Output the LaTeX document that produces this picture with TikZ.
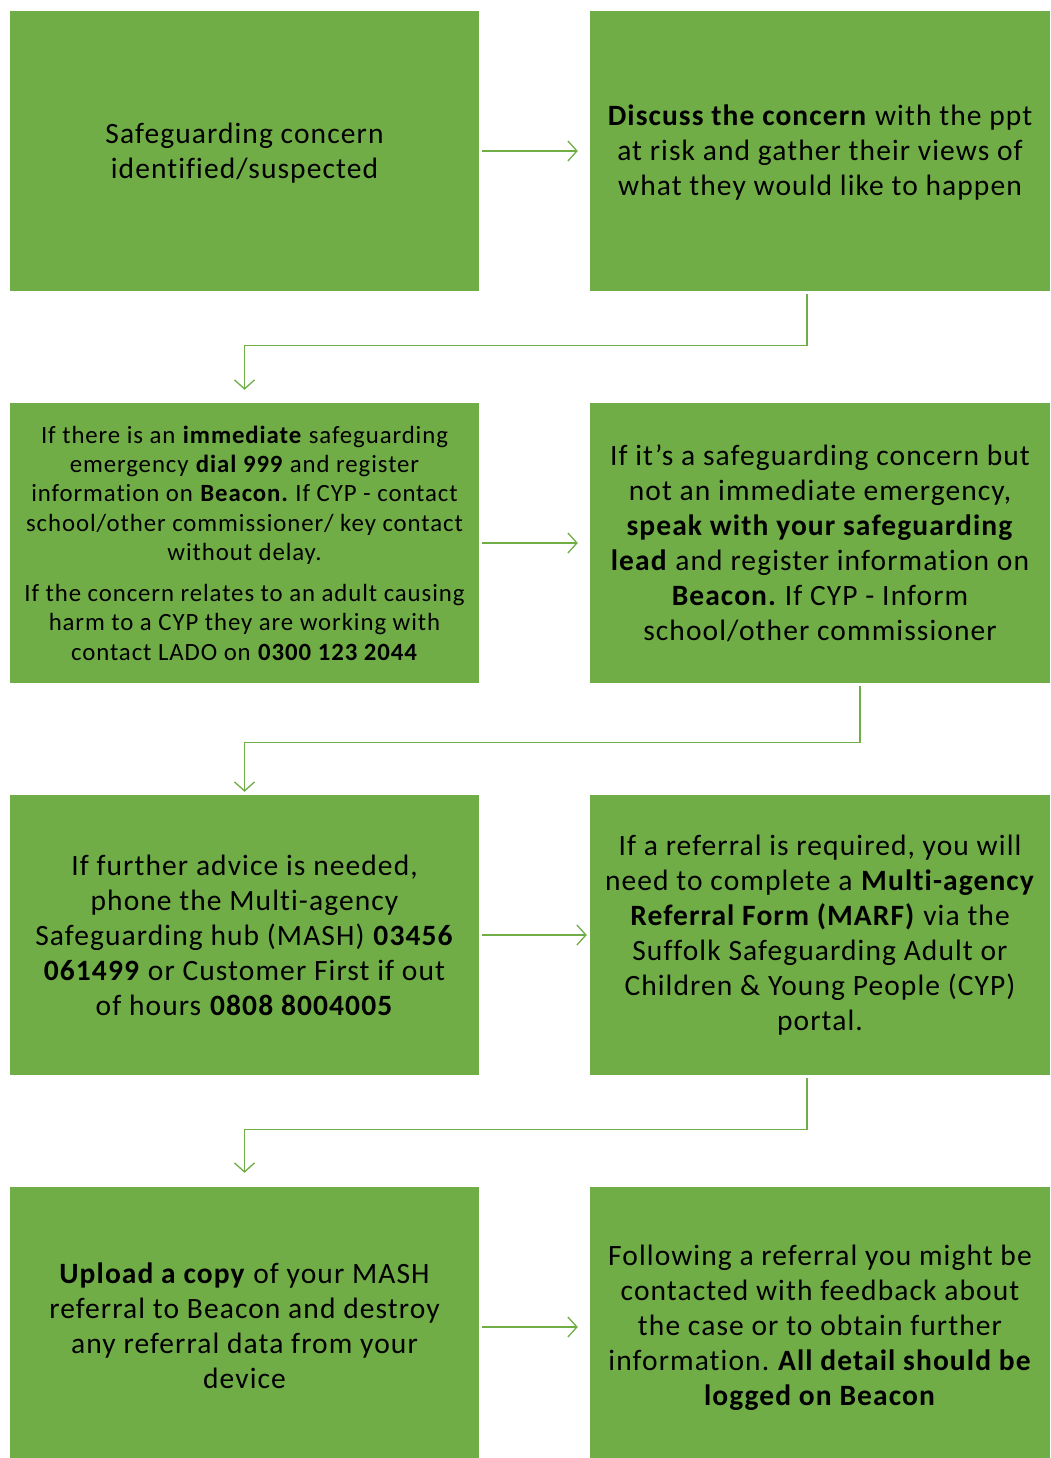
\documentclass[tikz,border=0pt]{standalone}
\usepackage{fontspec}
\setmainfont{Carlito}[LetterSpace=3.7,Ligatures={NoCommon},RawFeature={-liga;-clig}]
\usetikzlibrary{arrows.meta}
\definecolor{boxgreen}{HTML}{70AD47}
\frenchspacing
\tikzset{
  box/.style={fill=boxgreen, draw=none, minimum width=469pt, minimum height=280pt, inner sep=0pt},
  rbox/.style={box, minimum width=460pt},
  txt/.style={inner sep=0pt, align=center, text=black, font=\fontsize{29.5}{35}\selectfont},
  smalltxt/.style={txt, font=\fontsize{24.8}{29.3}\selectfont},
  arr/.style={draw=boxgreen, line width=1.3pt, -{Straight Barb[length=9pt,width=20pt,line width=1.3pt]}}
}
\begin{document}
\begin{tikzpicture}[x=1pt,y=-1pt]
\path[fill=white,use as bounding box] (0,0) rectangle (1050,1458);
\node[box] (b1) at (244.5,151) {};
\node[rbox] (b2) at (820,151) {};
\node[box] (b3) at (244.5,543) {};
\node[rbox] (b4) at (820,543) {};
\node[box] (b5) at (244.5,935) {};
\node[rbox] (b6) at (820,935) {};
\node[box] (b7) at (244.5,1327) {};
\node[rbox] (b8) at (820,1327) {};
\node[txt] (t1) at ([yshift=-2pt]b1.center) {Safeguarding concern\\identified/suspected};
\node[txt] (t2) at ([yshift=-2pt]b2.center) {\textbf{Discuss the concern} with the ppt\\at risk and gather their views of\\what they would like to happen};
\node[smalltxt] (t3) at (b3.center) {If there is an \textbf{immediate} safeguarding\\emergency \textbf{dial 999} and register\\information on \textbf{Beacon.} If CYP - contact\\school/other commissioner/ key contact\\without delay.\\[11.7pt]If the concern relates to an adult causing\\harm to a CYP they are working with\\contact LADO on \textbf{0300 123 2044}};
\node[txt] (t4) at (b4.center) {If it’s a safeguarding concern but\\not an immediate emergency,\\\textbf{speak with your safeguarding}\\\textbf{lead} and register information on\\\textbf{Beacon.} If CYP - Inform\\school/other commissioner};
\node[txt] (t5) at (b5.center) {If further advice is needed,\\phone the Multi-agency\\Safeguarding hub (MASH) \textbf{03456}\\\textbf{061499} or Customer First if out\\of hours \textbf{0808 8004005}};
\node[txt] (t6) at (b6.center) {If a referral is required, you will\\need to complete a \textbf{Multi-agency}\\\textbf{Referral Form (MARF)} via the\\Suffolk Safeguarding Adult or\\Children \& Young People (CYP)\\portal.};
\node[txt] (t7) at ([yshift=1pt]b7.center) {\textbf{Upload a copy} of your MASH\\referral to Beacon and destroy\\any referral data from your\\device};
\node[txt] (t8) at ([yshift=-1pt]b8.center) {Following a referral you might be\\contacted with feedback about\\the case or to obtain further\\information. \textbf{All detail should be}\\\textbf{logged on Beacon}};
% horizontal arrows
\draw[arr] ([xshift=3pt]b1.east) -- ([xshift=-12pt]b2.west);
\draw[arr] ([xshift=3pt]b3.east) -- ([xshift=-12pt]b4.west);
\draw[arr] ([xshift=3pt]b5.east) -- ([xshift=-3pt]b6.west);
\draw[arr] ([xshift=3pt]b7.east) -- ([xshift=-12pt]b8.west);
% elbow arrows
\draw[arr] ([xshift=-13pt,yshift=-3pt]b2.south) -- ++(0,51) -| ([yshift=13pt]b3.north);
\draw[arr] ([xshift=40pt,yshift=-3pt]b4.south) -- ++(0,56) -| ([yshift=3pt]b5.north);
\draw[arr] ([xshift=-13pt,yshift=-3pt]b6.south) -- ++(0,51) -| ([yshift=14pt]b7.north);
\end{tikzpicture}
\end{document}
